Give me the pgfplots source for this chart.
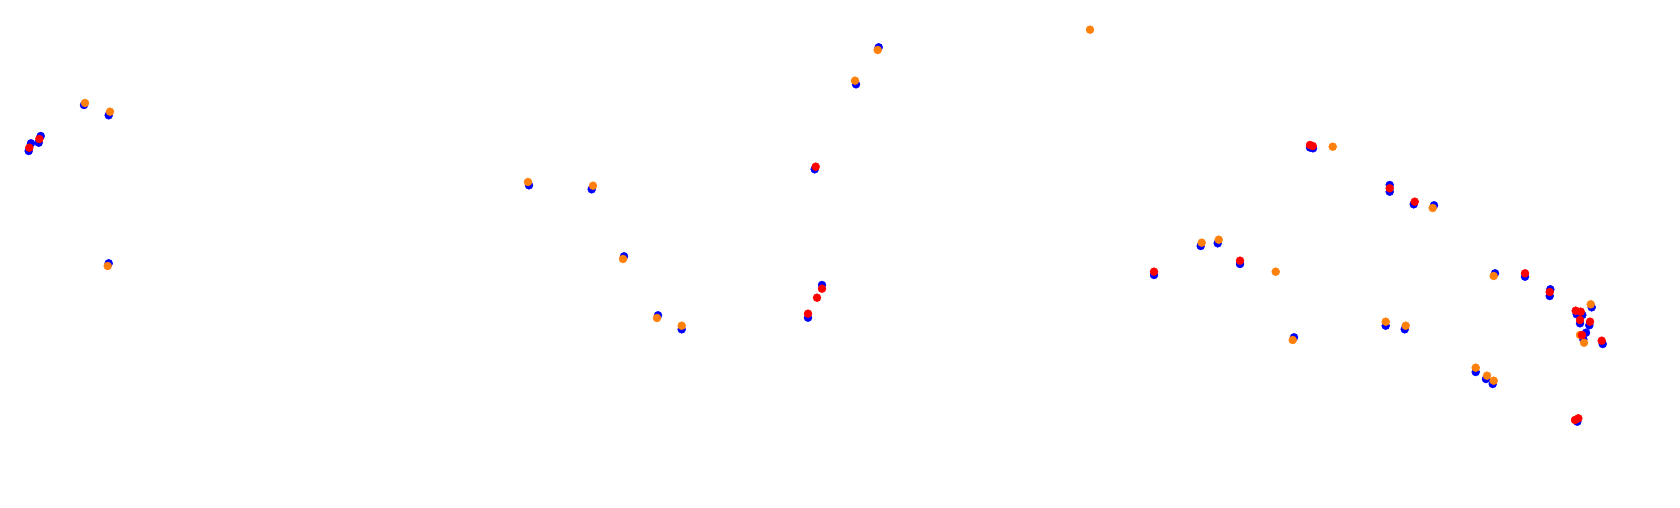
\documentclass[border=0pt]{standalone}
\usepackage{pgfplots}
\pgfplotsset{compat=1.18}
\definecolor{cblue}{RGB}{0,0,255}
\definecolor{corange}{RGB}{255,128,10}
\definecolor{cred}{RGB}{255,0,0}
\begin{document}
\begin{tikzpicture}
\begin{axis}[
  scale only axis, width=1680pt, height=508pt,
  xmin=0, xmax=1680, ymin=0, ymax=508, y dir=reverse,
  hide axis, clip=false,
  every axis plot/.append style={only marks, mark=*, mark size=4pt},
]
\path (axis cs:0,0) rectangle (axis cs:1680,508);
% blue
\addplot[cblue, mark options={draw=cblue, fill=cblue}] coordinates {
(40.7,136) (38.7,142.7) (31,143.3) (28.7,151)
(84,105) (108.7,115.3) (108.7,263.3)
(529,185.3) (591.7,189.3) (624,256.3) (658,315.3) (681.7,329.3)
(878.7,47.3) (856,84.3) (814.7,169.3) (822,285) (808,317.7)
(1310,147.5) (1313,148.3)
(1200.7,246) (1217.7,243.3) (1240,264) (1154,275)
(1389.7,185) (1389.7,191.7) (1413.7,204.3) (1434,205.3)
(1385.7,325.7) (1404.7,329.3) (1294,337.3)
(1495,273.3) (1525,276.7) (1550.3,289.3) (1549.7,296)
(1475.7,372) (1486,379) (1492.7,384)
(1591.7,307.3) (1576.7,314.3) (1582.3,315) (1580,323.3) (1589.3,325.3)
(1586,332.7) (1583.3,339.3) (1602.7,344) (1577.3,421.7)
};
% orange
\addplot[corange, mark options={draw=corange, fill=corange}] coordinates {
(85,103) (110,111.7) (107.7,266)
(528,182) (593,185.7) (623,259) (657,318) (681.7,325.7)
(877.7,50) (855,80.7)
(1090,29.7)
(1332.7,146.7) (1201.7,242.7) (1218.7,239.7) (1275.7,271.7)
(1432.7,208) (1385.7,321.7) (1405.7,325.7) (1292.7,340)
(1493.7,276)
(1475.7,367.7) (1487,375.7) (1493.7,380.7)
(1590.7,304.3) (1580,335) (1584,342.7)
};
% red
\addplot[cred, mark options={draw=cred, fill=cred}] coordinates {
(39.3,139) (29.3,147.7)
(815.7,166.7) (822,288.7) (817,297.7) (808,313.7)
(1310,145) (1312.7,146)
(1240,260.7) (1154,271.7)
(1389.7,188.3) (1414.7,201.7)
(1525,273.3) (1549.7,292)
(1575.7,310.7) (1580.7,311.7) (1580,320) (1590,321.7) (1582,335)
(1601.7,340.7) (1578.3,418.3) (1575,420)
};
\end{axis}
\end{tikzpicture}
\end{document}
